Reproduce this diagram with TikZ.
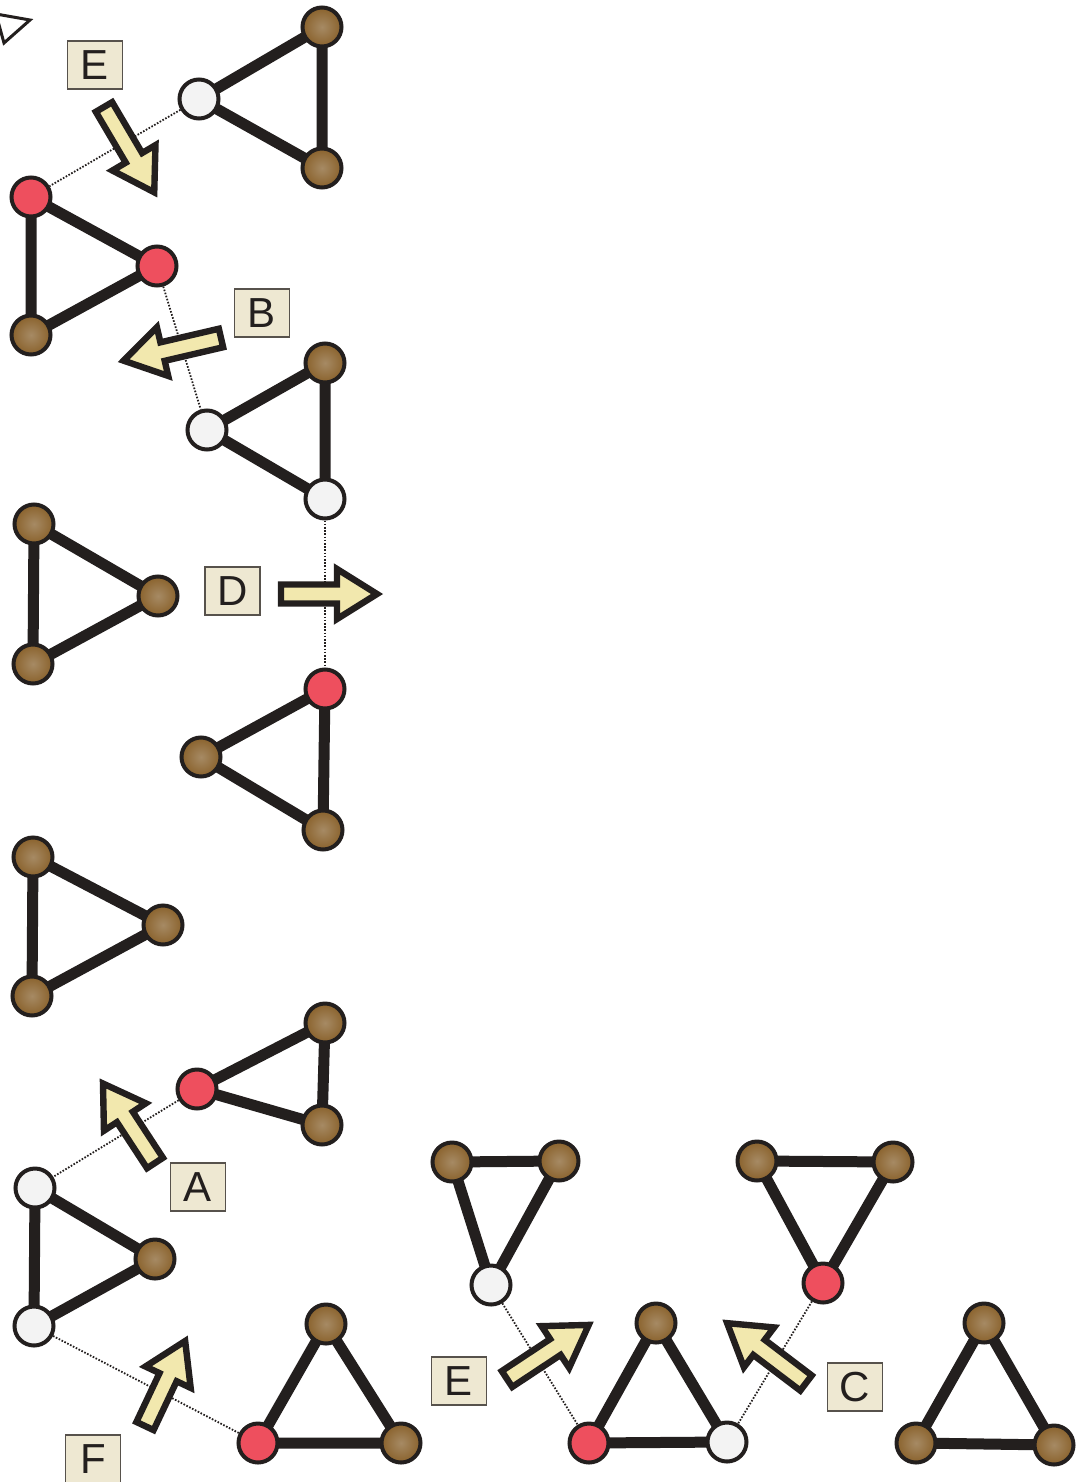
\documentclass[tikz,border=0pt]{standalone}
\usepackage{fontspec}
\setmainfont{Liberation Sans}
\usetikzlibrary{backgrounds}
\definecolor{ink}{HTML}{231F1E}
\definecolor{vred}{HTML}{EE4F5E}
\definecolor{vwhite}{HTML}{F3F3F3}
\definecolor{brownin}{HTML}{A68A64}
\definecolor{brownout}{HTML}{8A622C}
\definecolor{arrfill}{HTML}{F2E8AE}
\definecolor{labfill}{HTML}{EEE8D2}
\definecolor{labline}{HTML}{57524C}
\tikzset{
  fatarrow/.pic={\draw[line width=3.2pt,draw=ink,fill=arrfill,line join=miter]
     (0,-9.5) -- (#1-40,-9.5) -- (#1-40,-25) -- (#1,0) -- (#1-40,25) -- (#1-40,9.5) -- (0,9.5) -- cycle;}
}
\begin{document}
\begin{tikzpicture}[x=0.5pt,y=-0.5pt,
  vtx/.style={circle,draw=ink,line width=2pt,minimum size=19.5pt,inner sep=0pt},
  vb/.style={vtx,inner color=brownin,outer color=brownout},
  vr/.style={vtx,fill=vred},
  vw/.style={vtx,fill=vwhite},
  edge/.style={line width=5.5pt,draw=ink},
  link/.style={line width=0.9pt,draw=ink,dash pattern=on 0.8pt off 0.8pt},
  lab/.style={draw=labline,line width=0.8pt,fill=labfill,minimum width=27.5pt,minimum height=24pt,inner sep=0pt,font=\fontsize{21}{21}\selectfont,text=ink},
]
\useasboundingbox (0,0) rectangle (1080,1482);

% corner mark
\draw[line width=1.5pt,draw=ink,fill=white,line join=miter] (-4,14) -- (30,20) -- (4,43) -- cycle;

% T1
\node[vw] (t1a) at (199,99) {};
\node[vb] (t1b) at (322,27) {};
\node[vb] (t1c) at (322,168) {};
% T2
\node[vr] (t2a) at (31,197) {};
\node[vr] (t2b) at (157,266) {};
\node[vb] (t2c) at (31,335) {};
% T3
\node[vw] (t3a) at (207,430) {};
\node[vb] (t3b) at (325,363) {};
\node[vw] (t3c) at (325,499) {};
% T4
\node[vb] (t4a) at (34,524) {};
\node[vb] (t4b) at (158,596) {};
\node[vb] (t4c) at (33,664) {};
% T5
\node[vr] (t5a) at (325,689) {};
\node[vb] (t5b) at (201,757) {};
\node[vb] (t5c) at (323,830) {};
% T6
\node[vb] (t6a) at (33,857) {};
\node[vb] (t6b) at (163,925) {};
\node[vb] (t6c) at (32,996) {};
% T7
\node[vr] (t7a) at (197,1089) {};
\node[vb] (t7b) at (325,1023) {};
\node[vb] (t7c) at (322,1125) {};
% T8
\node[vw] (t8a) at (35,1188) {};
\node[vb] (t8b) at (155,1259) {};
\node[vw] (t8c) at (34,1326) {};
% T9
\node[vr] (t9a) at (258,1443) {};
\node[vb] (t9b) at (326,1324) {};
\node[vb] (t9c) at (401,1443) {};
% T10
\node[vb] (t10a) at (452,1162) {};
\node[vb] (t10b) at (559,1161) {};
\node[vw] (t10c) at (491,1285) {};
% T11
\node[vr] (t11a) at (589,1443) {};
\node[vb] (t11b) at (656,1323) {};
\node[vw] (t11c) at (727,1442) {};
% T12
\node[vb] (t12a) at (757,1161) {};
\node[vb] (t12b) at (893,1162) {};
\node[vr] (t12c) at (823,1283) {};
% T13
\node[vb] (t13a) at (984,1323) {};
\node[vb] (t13b) at (916,1443) {};
\node[vb] (t13c) at (1054,1445) {};

\begin{pgfonlayer}{background}
  \foreach \t in {t1,t2,t3,t4,t5,t6,t7,t8,t9,t10,t11,t12,t13}{
    \draw[edge] (\t a.center) -- (\t b.center) -- (\t c.center) -- cycle;
  }
  \draw[link] (t1a) -- (t2a);
  \draw[link] (t2b) -- (t3a);
  \draw[link] (t3c) -- (t5a);
  \draw[link] (t7a) -- (t8a);
  \draw[link] (t8c) -- (t9a);
  \draw[link] (t10c) -- (t11a);
  \draw[link] (t12c) -- (t11c);
\end{pgfonlayer}

% labels
\node[lab] (lE1) at (95,65) {E};
\node[lab] (lB) at (262,313) {B};
\node[lab] (lD) at (232.5,591) {D};
\node[lab] (lA) at (198,1187) {A};
\node[lab] (lF) at (93,1459) {F};
\node[lab] (lE2) at (459,1381) {E};
\node[lab] (lC) at (855,1387) {C};

% fat arrows
\pic[rotate=-59.5] at (104,107) {fatarrow=99};
\pic[rotate=193.1] at (221,338) {fatarrow=100};
\pic[rotate=0] at (281,594) {fatarrow=96};
\pic[rotate=123.2] at (155,1163) {fatarrow=95};
\pic[rotate=64.7] at (145,1426) {fatarrow=94};
\pic[rotate=33.5] at (507,1379) {fatarrow=98};
\pic[rotate=142.8] at (806,1383) {fatarrow=99};
\end{tikzpicture}
\end{document}
